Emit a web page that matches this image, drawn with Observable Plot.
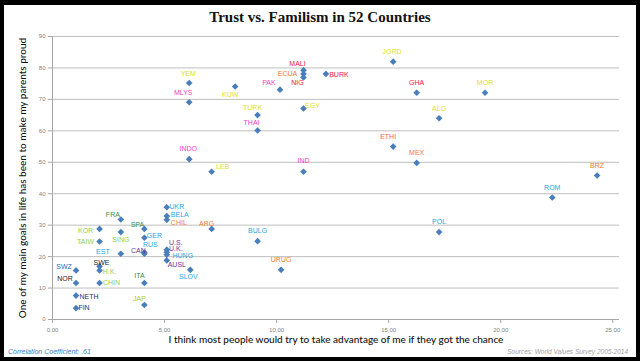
<!DOCTYPE html>
<html>
<head>
<meta charset="utf-8">
<script src="https://cdn.jsdelivr.net/npm/d3@7"></script>
<script src="https://cdn.jsdelivr.net/npm/@observablehq/plot@0.6"></script>
<style>
  html, body { margin: 0; padding: 0; background: #000; }
  #wrap { position: relative; width: 640px; height: 361px; background: #000; overflow: hidden; }
  #inner { position: absolute; left: 4px; top: 5px; width: 632px; height: 352px; background: #fff; }
  #chart { position: absolute; left: 0; top: 0; }
  #title { position: absolute; left: 0; width: 640px; top: 9px; text-align: center;
           font-family: "Liberation Serif", serif; font-weight: bold; font-size: 15px; color: #111; }
  #corr { position: absolute; left: 8px; top: 348px; font-family: "Liberation Sans", sans-serif;
          font-style: italic; font-size: 7px; color: #3d7cc4; }
  #src { position: absolute; right: 12px; top: 348px; font-family: "Liberation Sans", sans-serif;
         font-style: italic; font-size: 6.5px; color: #a0a0a0; }
</style>
</head>
<body>
<div id="wrap">
  <div id="inner"></div>
  <div id="chart"></div>
  <div id="title">Trust vs. Familism in 52 Countries</div>
  <div id="corr">Correlation Coefficient: .61</div>
  <div id="src">Sources: World Values Survey 2005-2014</div>
</div>
<script>
// ---- data ----
const countries = ["JORD","MALI","ECUA","NIG","BURK","PAK","YEM","KUW","MLYS","EGY",
  "TURK","THAI","INDO","LEB","IND","ETHI","GHA","MOR","ALG","MEX",
  "BRZ","ROM","POL","BULG","URUG","ARG","UKR","BELA","CHIL","U.S.",
  "U.K.","HUNG","AUSL","SLOV","GER","SPA","RUS","CAN","FRA","SING",
  "EST","KOR","TAIW","SWE","H.K.","CHIN","SWZ","NOR","NETH","FIN",
  "ITA","JAP"];
// x: "most people would try to take advantage of me"
const advantage = [15.2,11.2,11.2,11.2,12.2,10.15,6.1,8.15,6.1,11.2,
  9.15,9.15,6.1,7.1,11.2,15.2,16.25,19.3,17.25,16.25,
  24.3,22.3,17.25,9.15,10.2,7.1,5.1,5.1,5.1,5.1,
  5.1,5.1,5.1,6.15,4.1,4.1,4.1,4.1,3.05,3.05,
  3.05,2.1,2.1,2.1,2.1,2.1,1.05,1.05,1.05,1.05,
  4.1,4.1];
// y: "make my parents proud"
const parentsProud = [82,79.3,78.1,77,78.1,73.1,75.2,74.1,69.1,67.1,
  65,60.1,51,47,47,55,72.1,72.1,64,49.8,
  45.8,38.8,27.8,24.9,15.8,28.8,35.7,32.9,31.7,22.2,
  21.4,20.6,18.8,15.8,26,28.8,21.3,20.9,31.8,27.8,
  20.9,28.8,24.8,16.9,15.6,11.6,15.6,11.6,7.6,3.6,
  11.6,4.6];
const region = ["mena","africa","latam","africa","africa","sasia","mena","mena","sasia","mena",
  "mena","sasia","sasia","mena","sasia","africa2","africa","mena","mena","latam",
  "latam","eeur","eeur","eeur","latam","latam","eeur","eeur","latam","anglo",
  "anglo","eeur","anglo","eeur","eeur","weur","eeur","anglo","weur","easia",
  "eeur","easia","easia","nordic","easia","easia","swz","nordic","navy","navy",
  "weur","japan"];
const xTicks = [0,5,10,15,20,25];
const yTicks = [0,10,20,30,40,50,60,70,80,90];

// ---- label placement (pixel offsets from the point) ----
const labelDx = [-1,-6,-16,-6,13,-11,-1,-5,-6,9,
  -5,-6,-1,11,0,-5,0,0,0,0,
  0,0,0,0,0,-5,10,13,12,9,
  9,16,10,-2,10,-7,6,-6,-8,0,
  -18,-14,-14,2,10,12,-12,-11,13,8,
  -5,-5];
const labelDy = [-10,-6,0,5,1,-7,-9,8,-9,-3,
  -7,-8,-10,-5,-11,-10,-10,-10,-10,-10,
  -10,-10,-10,-10,-10,-5,0,-1,3,-7,
  -3,1,4,7,-2,-4,-8,-3,-5,8,
  -2,2,0,-4,1,0,-4,-4,1,0,
  -7,-6];

const regionColors = {
  mena: "#dede2c", africa: "#f0143c", africa2: "#ff5a5a", latam: "#f27a32",
  sasia: "#ee3fc0", eeur: "#1ea6e6", anglo: "#7030a0", weur: "#2e9050",
  easia: "#92d050", japan: "#b2c61e", nordic: "#1c1c2c", swz: "#2a66c0", navy: "#1f3070"
};

const data = countries.map((c, i) => ({
  name: c, x: advantage[i], y: parentsProud[i], region: region[i], dx: labelDx[i], dy: labelDy[i]
}));

const fmt = d => d3.format(".2f")(d).replace(".", ",");

const labelMarks = data.map(d => Plot.text([d], {
  x: "x", y: "y", text: "name", dx: d.dx, dy: d.dy,
  fill: regionColors[d.region], fontSize: 7, fontFamily: "Liberation Sans", textAnchor: "middle"
}));

const chart = Plot.plot({
  width: 640, height: 361,
  marginLeft: 52, marginRight: 21, marginTop: 36, marginBottom: 42,
  style: { background: "transparent", fontFamily: "Liberation Sans", fontSize: "6px", color: "#7f7f7f" },
  x: { domain: [0, 25.3] },
  y: { domain: [0, 90] },
  marks: [
    Plot.ruleY(yTicks.filter(v => v > 0), { stroke: "#bfbfbf", strokeWidth: 1 }),
    Plot.ruleY([0], { stroke: "#a6a6a6" }),
    Plot.ruleX([0], { stroke: "#a6a6a6" }),
    Plot.axisX({ ticks: xTicks, tickFormat: fmt, tickSize: 4, tickPadding: 4, label: null, stroke: "#a6a6a6", fill: "#7f7f7f" }),
    Plot.axisY({ ticks: yTicks, tickSize: 4, tickPadding: 3, label: null, stroke: "#a6a6a6", fill: "#7f7f7f" }),
    Plot.text(["I think most people would try to take advantage of me if they got the chance"], {
      frameAnchor: "bottom", dy: 23, fontSize: 10, fill: "#111", fontFamily: "Lato", fontWeight: "500"
    }),
    Plot.text(["One of my main goals in life has been to make my parents proud"], {
      frameAnchor: "left", dx: -30, rotate: -90, textAnchor: "middle", fontSize: 10, fill: "#111", fontFamily: "Lato", fontWeight: "500"
    }),
    Plot.dot(data, { x: "x", y: "y", symbol: "diamond2", r: 3, fill: "#4a7ebb", stroke: "none" }),
    ...labelMarks
  ]
});
document.getElementById("chart").appendChild(chart);
</script>
</body>
</html>
